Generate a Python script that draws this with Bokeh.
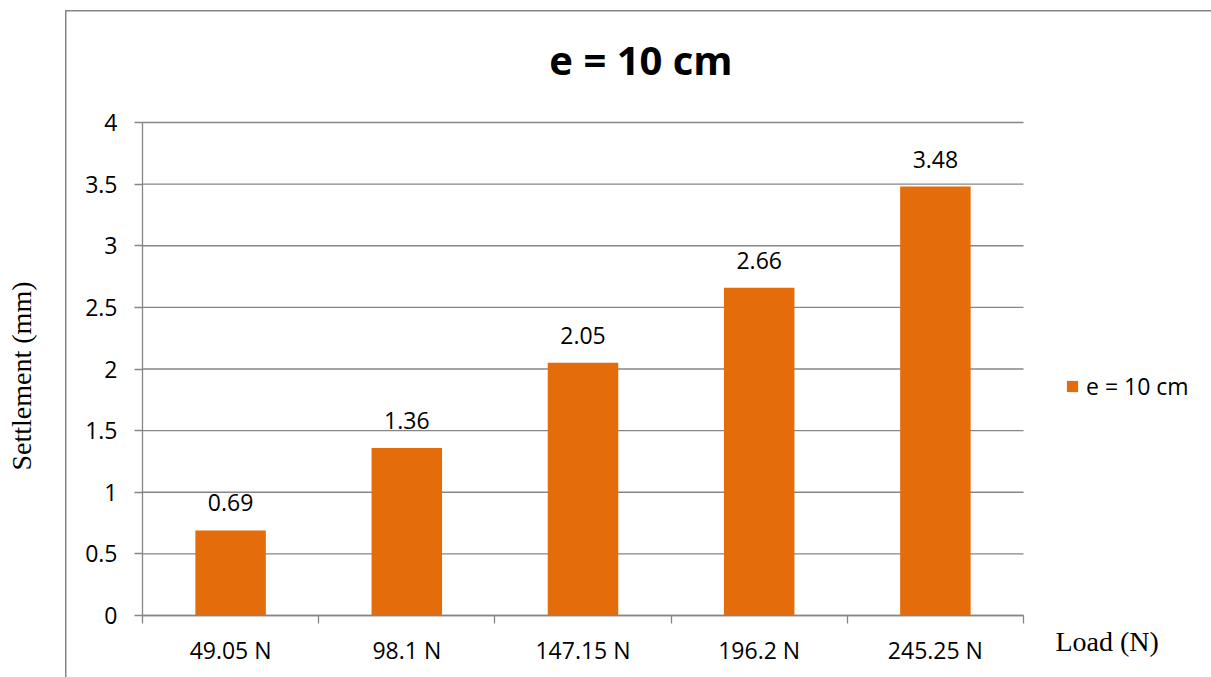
import math
from bokeh.plotting import figure
from bokeh.models import (ColumnDataSource, FixedTicker, LabelSet, Label, Legend,
                          LegendItem, Range1d)
from bokeh.core.properties import value
from bokeh.embed import file_html
from bokeh.resources import INLINE

# Settlement under each applied load
loads = ["49.05 N", "98.1 N", "147.15 N", "196.2 N", "245.25 N"]
settlement = [0.69, 1.36, 2.05, 2.66, 3.48]
y_ticks = [0, 0.5, 1, 1.5, 2, 2.5, 3, 3.5, 4]
y_tick_labels = ["0", "0.5", "1", "1.5", "2", "2.5", "3", "3.5", "4"]
y_max = 4
series_name = "e = 10 cm"
chart_title = "e = 10 cm"
x_title = "Load (N)"
y_title = "Settlement (mm)"

SANS = "Open Sans"
SERIF = "Liberation Serif"
GRAY = "#868686"
BAR = "#E46C0A"

# page layout (pixels): the plotting frame fills the whole canvas and the
# bar area sits inside it, so titles and legend live in the same space
W, H = 1211, 677
AREA_L, AREA_R, AREA_T, AREA_B = 142, 1023, 122, 615
n = len(loads)
px_x = (AREA_R - AREA_L) / n
px_y = (AREA_B - AREA_T) / y_max
x_range = Range1d(-AREA_L / px_x, n + (W - AREA_R) / px_x)
y_range = Range1d(-(H - AREA_B) / px_y, y_max + AREA_T / px_y)

xs = [i + 0.5 for i in range(n)]
edges = list(range(n + 1))
src = ColumnDataSource(dict(x=xs, y=settlement, lbl=[f"{v:.2f}" for v in settlement]))

p = figure(width=W, height=H, output_backend="svg", toolbar_location=None,
           x_range=x_range, y_range=y_range,
           min_border_left=0, min_border_right=0, min_border_top=0, min_border_bottom=0)
p.outline_line_color = None
p.background_fill_color = None
p.border_fill_color = None
# chart area border drawn behind the canvas
p.styles = {
    "background": (f"linear-gradient({GRAY},{GRAY}) 65px 10px / 1.5px 100% no-repeat, "
                   f"linear-gradient({GRAY},{GRAY}) 65px 9.5px / 100% 1.5px no-repeat, white"),
}

# horizontal gridlines across the bar area
p.segment(x0=0, x1=n, y0=y_ticks, y1=y_ticks, line_color=GRAY, line_width=1.3)

r = p.vbar(x="x", top="y", width=0.4, source=src, fill_color=BAR, line_color=None)

# y axis
ya = p.yaxis[0]
ya.fixed_location = 0
ya.bounds = (0, y_max)
ya.ticker = FixedTicker(ticks=y_ticks)
ya.major_label_overrides = {t: s for t, s in zip(y_ticks, y_tick_labels)}
ya.axis_line_color = GRAY
ya.axis_line_width = 1.3
ya.major_tick_line_color = GRAY
ya.major_tick_line_width = 1.3
ya.major_tick_out = 8
ya.major_tick_in = 0
ya.minor_tick_line_color = None
ya.major_label_standoff = 17
ya.major_label_text_font = SANS
ya.major_label_text_font_size = "23px"
ya.major_label_text_color = "black"

# x axis: boundary ticks as minor ticks, labels at category centres
xa = p.xaxis[0]
xa.fixed_location = 0
xa.bounds = (0, n)
xa.ticker = FixedTicker(ticks=xs, minor_ticks=edges)
xa.major_label_overrides = {x: s for x, s in zip(xs, loads)}
xa.axis_line_color = GRAY
xa.axis_line_width = 1.3
xa.major_tick_line_color = None
xa.major_tick_out = 0
xa.major_tick_in = 0
xa.minor_tick_line_color = GRAY
xa.minor_tick_line_width = 1.3
xa.minor_tick_out = 8
xa.minor_tick_in = 0
xa.major_label_standoff = 10
xa.major_label_text_font = SANS
xa.major_label_text_font_size = "23px"
xa.major_label_text_color = "black"

p.xgrid.visible = False
p.ygrid.visible = False

# value labels above the bars
p.add_layout(LabelSet(x="x", y="y", text="lbl", source=src, text_align="center",
                      text_baseline="alphabetic", y_offset=19, text_font=value(SANS),
                      text_font_size=value("23px"), text_color="black"))

p.add_layout(Label(x=n / 2, y=y_max, x_offset=58, y_offset=63, text=chart_title,
                   text_align="center", text_baseline="alphabetic", text_font=SANS,
                   text_font_size="40px", text_font_style="bold", text_color="black"))

p.add_layout(Label(x=n, y=0, x_offset=32, y_offset=-26, text=x_title,
                   text_align="left", text_baseline="alphabetic", text_font=SERIF,
                   text_font_size="28px", text_color="black"))

p.add_layout(Label(x=0, y=y_max / 2, x_offset=-121, y_offset=-7, text=y_title,
                   angle=math.pi / 2, text_align="center", text_baseline="middle",
                   text_font=SERIF, text_font_size="28px", text_color="black"))

legend = Legend(items=[LegendItem(label=series_name, renderers=[r])],
                location=(1065, 275), border_line_color=None, background_fill_alpha=0,
                padding=0, margin=0, glyph_width=14, glyph_height=14,
                label_standoff=7, label_text_font=SANS, label_text_font_size="23px",
                label_text_color="black")
p.add_layout(legend, "center")

open("out.html", "w").write(file_html(p, INLINE))
